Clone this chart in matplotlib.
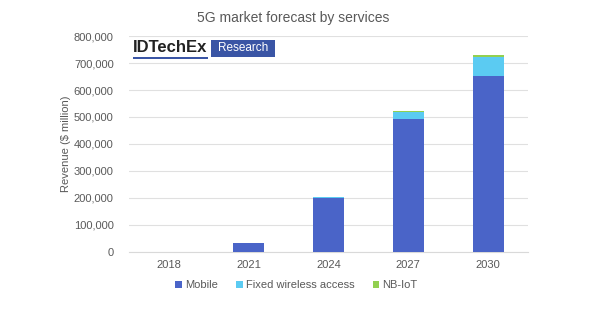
import matplotlib.pyplot as plt
import numpy as np
from matplotlib.patches import Rectangle

plt.rcParams['font.family'] = ['Liberation Sans', 'DejaVu Sans']

# data (revenue, $ million)
years = ["2018", "2021", "2024", "2027", "2030"]
mobile = [0, 32000, 199000, 493000, 651000]
fixed_wireless = [0, 1000, 5000, 26000, 73000]
nb_iot = [0, 300, 1000, 2500, 5000]

c_mobile = '#4a64c8'
c_fixed = '#5bcbf2'
c_nb = '#92d050'
txt = '#595959'

fig = plt.figure(figsize=(6, 3.25), dpi=100)
ax = fig.add_axes([0.215, 0.225, 0.665, 0.664])

x = np.arange(len(years))
mobile = np.array(mobile)
fixed_wireless = np.array(fixed_wireless)
nb_iot = np.array(nb_iot)
width = 0.39
ax.bar(x, mobile, width, color=c_mobile, label='Mobile', zorder=3)
ax.bar(x, fixed_wireless, width, bottom=mobile, color=c_fixed, label='Fixed wireless access', zorder=3)
ax.bar(x, nb_iot, width, bottom=mobile + fixed_wireless, color=c_nb, label='NB-IoT', zorder=3)

ax.set_xlim(-0.5, 4.5)
ax.set_ylim(0, 800000)
ax.set_yticks(np.arange(0, 800001, 100000))
ax.set_yticklabels(["{:,}".format(v) for v in range(0, 800001, 100000)])
ax.set_xticks(x)
ax.set_xticklabels(years)
ax.tick_params(axis='both', length=0, labelsize=8, colors=txt)
ax.tick_params(axis='y', pad=11)
ax.tick_params(axis='x', pad=6)
ax.grid(axis='y', color='#e0e0e0', linewidth=0.8, zorder=0)
for s in ['top', 'right', 'left']:
    ax.spines[s].set_visible(False)
ax.spines['bottom'].set_color('#d9d9d9')

ax.set_ylabel("Revenue ($ million)", fontsize=8, color=txt, labelpad=2)

fig.text(0.488, 0.945, "5G market forecast by services", ha='center', va='center',
         fontsize=10, color=txt)

# logo
fig.text(0.221, 0.855, "IDTechEx", fontsize=12, fontweight='bold', color='#222222',
         ha='left', va='center')
fig.add_artist(Rectangle((0.222, 0.818), 0.125, 0.006, transform=fig.transFigure,
                         color='#3a55a5', lw=0))
fig.add_artist(Rectangle((0.352, 0.826), 0.107, 0.05, transform=fig.transFigure,
                         color='#3a55a5', lw=0))
fig.text(0.405, 0.851, "Research", fontsize=8.5, color='white', ha='center', va='center')

ax.legend(loc='upper center', bbox_to_anchor=(0.42, -0.085), ncol=3, frameon=False,
          fontsize=8, labelcolor=txt, handlelength=0.6, handleheight=0.6,
          handletextpad=0.3, columnspacing=1.6)

plt.savefig("out.png", dpi=100)
